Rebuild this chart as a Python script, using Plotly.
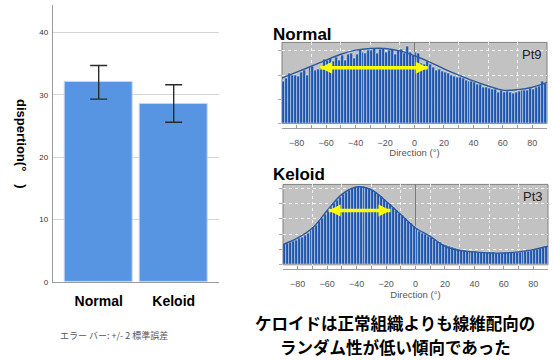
import plotly.graph_objects as go

# ---------------- data ----------------
bar_categories = ["Normal", "Keloid"]
bar_means = [32.0, 28.6]
bar_err = [2.7, 3.0]
bar_yticks = [0, 10, 20, 30, 40]

hist_ticks = [-80, -60, -40, -20, 0, 20, 40, 60, 80]

# 2-degree bins starting at -89 (centres)
normal_counts = [
    1.75, 1.85, 2.05, 2.00, 1.98, 1.95, 2.10, 2.20, 2.00, 2.32,
    2.35, 2.20, 2.25, 2.30, 2.65, 2.60, 2.68, 2.55, 2.75, 2.60,
    2.80, 2.60, 2.85, 2.90, 2.70, 2.85, 3.05, 2.95, 2.90, 3.00,
    3.00, 3.12, 2.90, 3.05, 3.10, 2.95, 3.00, 3.05, 2.85, 3.00,
    3.05, 2.90, 3.20, 2.95, 2.80, 2.95, 2.90, 2.50, 2.45, 2.55,
    2.45, 2.30, 2.20, 2.25, 2.15, 2.10, 2.05, 2.00, 1.95, 1.90,
    1.90, 1.85, 1.80, 1.72, 1.75, 1.68, 1.60, 1.62, 1.50, 1.48,
    1.45, 1.40, 1.42, 1.30, 1.35, 1.28, 1.32, 1.30, 1.25, 1.30,
    1.33, 1.35, 1.38, 1.35, 1.45, 1.42, 1.50, 1.55, 1.75, 1.65,
]
keloid_counts = [
    1.30, 1.38, 1.45, 1.55, 1.62, 1.72, 1.82, 1.95, 2.08, 2.25,
    2.42, 2.60, 2.82, 3.05, 3.30, 3.55, 3.78, 4.00, 4.22, 4.42,
    4.60, 4.75, 4.88, 4.98, 5.05, 5.10, 5.12, 5.10, 5.05, 4.98,
    4.88, 4.75, 4.60, 4.45, 4.28, 4.10, 3.92, 3.72, 3.52, 3.33,
    3.20, 3.02, 2.85, 2.68, 2.50, 2.35, 2.20, 2.08, 1.97, 1.88,
    1.78, 1.68, 1.55, 1.45, 1.35, 1.27, 1.20, 1.13, 1.05, 0.99,
    0.95, 0.92, 0.90, 0.88, 0.86, 0.85, 0.84, 0.82, 0.80, 0.79,
    0.78, 0.78, 0.77, 0.77, 0.77, 0.78, 0.78, 0.79, 0.80, 0.82,
    0.84, 0.86, 0.88, 0.90, 0.94, 0.98, 1.02, 1.07, 1.13, 1.20,
]

curve_deg = [-90, -80, -70, -60, -50, -40, -30, -20, -10, 0,
             10, 20, 30, 40, 50, 60, 70, 80, 90]
normal_curve = [1.88, 2.12, 2.37, 2.62, 2.86, 3.03, 3.10, 3.10, 3.00, 2.80,
                2.55, 2.26, 2.00, 1.76, 1.55, 1.38, 1.40, 1.50, 1.70]
keloid_curve = [1.32, 1.75, 2.40, 3.54, 4.60, 5.08, 4.90, 4.15, 3.28, 2.40,
                1.86, 1.21, 0.93, 0.84, 0.77, 0.77, 0.84, 0.99, 1.21]

normal_arrow_x = [-64, 9]
normal_arrow_y = [2.3, 2.3]
keloid_arrow_x = [-59, -17]
keloid_arrow_y = [3.54, 3.54]

conclusion_lines = ["ケロイドは正常組織よりも線維配向の", "ランダム性が低い傾向であった"]

# ---------------- figure ----------------
W, H = 553, 360
LAT = "Liberation Sans, Arial, sans-serif"
CJK = "Noto Sans CJK JP, sans-serif"


def px_x(v):
    return v / W


def px_y(v):
    return 1 - v / H


fig = go.Figure()

# bar chart
fig.add_trace(go.Bar(
    x=[0, 1], y=bar_means, width=0.897,
    marker=dict(color="#5794e2", line=dict(color="#c5d9f3", width=1)),
    error_y=dict(type="data", array=bar_err, color="#2a2a2a",
                 thickness=1.4, width=8.5),
    xaxis="x", yaxis="y", showlegend=False,
))

hist_marker = dict(color="#1f55aa", line=dict(color="rgba(225,235,250,0.85)", width=0.6))
arrow_marker = dict(symbol=["arrow-left", "arrow-right"], size=12, color="#ffff00")

# Normal histogram
fig.add_trace(go.Bar(x0=-89, dx=2, y=normal_counts, marker=hist_marker,
                     xaxis="x2", yaxis="y2", showlegend=False))
fig.add_trace(go.Scatter(x=curve_deg, y=normal_curve, mode="lines",
                         line=dict(color="#2b5a9e", width=1.4, shape="spline"),
                         xaxis="x2", yaxis="y2", showlegend=False))
fig.add_trace(go.Scatter(x=normal_arrow_x, y=normal_arrow_y, mode="lines+markers",
                         line=dict(color="#ffff00", width=3.5), marker=arrow_marker,
                         xaxis="x2", yaxis="y2", showlegend=False))

# Keloid histogram
fig.add_trace(go.Bar(x0=-89, dx=2, y=keloid_counts, marker=hist_marker,
                     xaxis="x3", yaxis="y3", showlegend=False))
fig.add_trace(go.Scatter(x=curve_deg, y=keloid_curve, mode="lines",
                         line=dict(color="#2b5a9e", width=1.4, shape="spline"),
                         xaxis="x3", yaxis="y3", showlegend=False))
fig.add_trace(go.Scatter(x=keloid_arrow_x, y=keloid_arrow_y, mode="lines+markers",
                         line=dict(color="#ffff00", width=3.5), marker=arrow_marker,
                         xaxis="x3", yaxis="y3", showlegend=False))


def hist_x(dom, pos):
    return dict(
        domain=dom, anchor="free", position=pos,
        range=[-90, 90], tickvals=hist_ticks, ticks="inside", ticklen=3, tickcolor="#9a9a9a",
        showgrid=False, zeroline=True, zerolinecolor="#7a7a7a", zerolinewidth=1,
        showline=True, linecolor="#a0a0a0", linewidth=1,
        tickfont=dict(family=LAT, size=9, color="#555555"),
        title=dict(text="Direction (°)", font=dict(family=LAT, size=9.5, color="#555555"), standoff=0),
        minor=dict(tick0=-70, dtick=20, ticks="inside", ticklen=3, tickcolor="#9a9a9a",
                   showgrid=True, gridcolor="rgba(255,255,255,0.8)", griddash="dot", gridwidth=1),
        ticklabelstandoff=6,
    )


def hist_y(dom, rng, anchor):
    return dict(
        domain=dom, range=rng, anchor=anchor,
        showticklabels=False, ticks="outside", ticklen=3, tickcolor="#aaaaaa",
        showgrid=True, gridcolor="rgba(255,255,255,0.8)", griddash="dot", gridwidth=1,
        zeroline=False, showline=False, dtick=1, tick0=0,
    )


fig.update_layout(
    width=W, height=H, margin=dict(l=0, r=0, t=0, b=0),
    paper_bgcolor="white", plot_bgcolor="white",
    bargap=0, barmode="overlay",
    xaxis=dict(
        domain=[px_x(52.7), px_x(219)], range=[-0.613, 1.604],
        tickvals=[0, 1], ticktext=bar_categories,
        tickfont=dict(family=LAT, size=14, color="#000000", weight="bold"),
        showline=True, linecolor="#9a9a9a", linewidth=1, showgrid=False, zeroline=False,
        ticks="", ticklabelstandoff=6, anchor="y",
    ),
    yaxis=dict(
        domain=[px_y(286), px_y(5)], range=[0, 44.4], tickvals=bar_yticks,
        tickfont=dict(family=LAT, size=8, color="#333333"),
        showline=True, linecolor="#9a9a9a", linewidth=1,
        showgrid=True, gridcolor="#d4d4d4", gridwidth=1, zeroline=False, ticks="",
        ticklabelstandoff=2, anchor="x",
    ),
    xaxis2=hist_x([px_x(282), px_x(547)], px_y(129.5)),
    yaxis2=hist_y([px_y(125.3), px_y(43)], [0, 3.35], "x2"),
    xaxis3=hist_x([px_x(283), px_x(548)], px_y(273)),
    yaxis3=hist_y([px_y(268.5), px_y(187)], [0, 5.25], "x3"),
    shapes=[
        dict(type="rect", xref="x2 domain", yref="y2 domain", x0=0, x1=1, y0=0, y1=1,
             fillcolor="#c2c2c2", line=dict(width=1, color="#808080"), layer="below"),
        dict(type="rect", xref="x3 domain", yref="y3 domain", x0=0, x1=1, y0=0, y1=1,
             fillcolor="#c2c2c2", line=dict(width=1, color="#808080"), layer="below"),
    ],
)

annotations = [
    dict(text="<b>dispertion(°　)</b>", x=px_x(21), y=px_y(146), xref="paper", yref="paper",
         textangle=90, xanchor="center", yanchor="middle", showarrow=False,
         font=dict(family=LAT, size=13, color="#000000")),
    dict(text="<b>Normal</b>", x=px_x(271), y=px_y(35), xref="paper", yref="paper",
         xanchor="left", yanchor="middle", showarrow=False,
         font=dict(family=LAT, size=17, color="#000000")),
    dict(text="<b>Keloid</b>", x=px_x(271), y=px_y(177), xref="paper", yref="paper",
         xanchor="left", yanchor="middle", showarrow=False,
         font=dict(family=LAT, size=17, color="#000000")),
    dict(text="Pt9", x=0.99, y=0.97, xref="x2 domain", yref="y2 domain",
         xanchor="right", yanchor="top", showarrow=False,
         font=dict(family=LAT, size=13, color="#222222")),
    dict(text="Pt3", x=0.99, y=0.97, xref="x3 domain", yref="y3 domain",
         xanchor="right", yanchor="top", showarrow=False,
         font=dict(family=LAT, size=13, color="#222222")),
    dict(text="エラー バー: +/- 2 標準誤差", x=px_x(58), y=px_y(340), xref="paper", yref="paper",
         xanchor="left", yanchor="middle", showarrow=False,
         font=dict(family=CJK, size=9, color="#555555")),
    dict(text="<b>" + conclusion_lines[0] + "</b>", x=px_x(395), y=px_y(327.5),
         xref="paper", yref="paper", xanchor="center", yanchor="middle", showarrow=False,
         font=dict(family=CJK, size=16.5, color="#000000")),
    dict(text="<b>" + conclusion_lines[1] + "</b>", x=px_x(395), y=px_y(351.5),
         xref="paper", yref="paper", xanchor="center", yanchor="middle", showarrow=False,
         font=dict(family=CJK, size=16.5, color="#000000")),
]
fig.update_layout(annotations=annotations)

fig.write_html("out.html", config={"displayModeBar": False})

# remove the default body margin so the figure sits at the page origin
with open("out.html", "r", encoding="utf-8") as f:
    html = f.read()
html = html.replace("<head>", "<head><style>html,body{margin:0;padding:0;overflow:hidden;}</style>", 1)
with open("out.html", "w", encoding="utf-8") as f:
    f.write(html)
